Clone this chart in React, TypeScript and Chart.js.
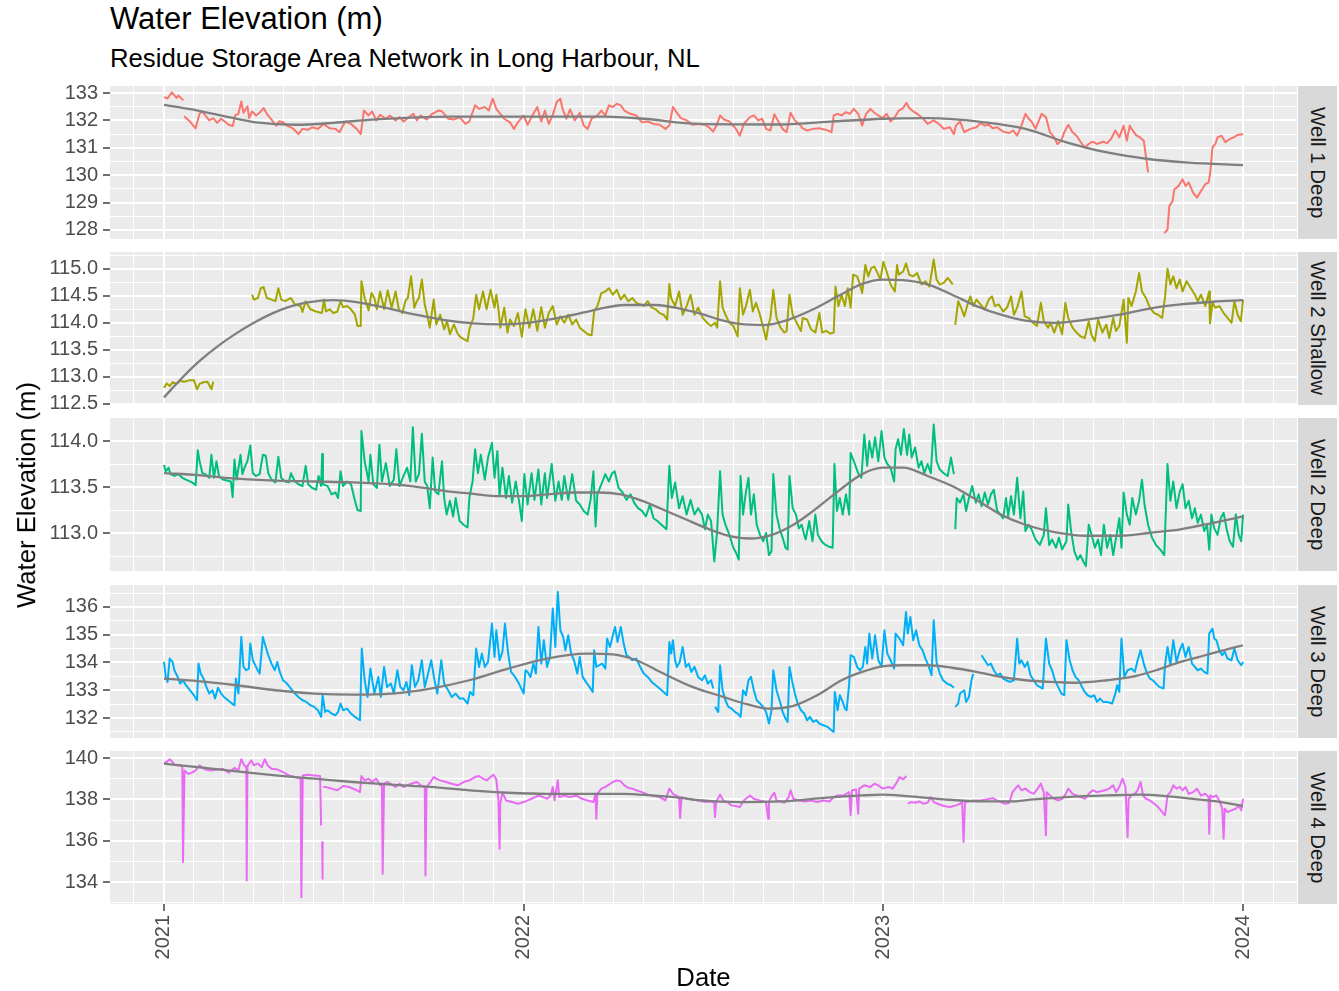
import React, { useEffect, useRef } from 'react';
import { Chart, registerables } from 'chart.js';

Chart.register(...registerables);

type Pt = [number, number | null];

// ---------------- data (decimal year, water elevation m) ----------------
const well1Deep: Pt[] = [
  [2021.000,132.85],[2021.010,132.80],[2021.022,133.02],[2021.035,132.82],[2021.040,132.91],[2021.054,132.73],
  [2021.055,null],
  [2021.056,132.15],[2021.072,131.96],[2021.088,131.71],[2021.099,132.24],[2021.107,132.33],[2021.115,132.18],[2021.126,132.00],[2021.137,132.08],[2021.148,131.91],[2021.159,132.06],[2021.169,131.96],[2021.180,131.84],[2021.191,131.79],[2021.198,132.18],[2021.207,132.24],[2021.215,132.69],[2021.221,132.28],[2021.232,132.51],[2021.237,132.08],[2021.245,132.33],[2021.256,132.18],[2021.266,132.28],[2021.277,132.45],[2021.288,132.20],[2021.299,132.03],[2021.312,131.81],[2021.320,131.97],[2021.331,131.93],[2021.342,131.81],[2021.358,131.71],[2021.374,131.50],[2021.385,131.69],[2021.401,131.66],[2021.412,131.75],[2021.428,131.69],[2021.444,131.87],[2021.461,131.71],[2021.477,131.69],[2021.488,131.57],[2021.504,131.96],[2021.520,131.87],[2021.536,131.69],[2021.547,131.50],[2021.556,132.36],[2021.568,132.18],[2021.579,132.33],[2021.590,132.00],[2021.601,132.20],[2021.617,132.06],[2021.628,132.18],[2021.644,132.00],[2021.655,132.12],[2021.666,131.96],[2021.676,132.06],[2021.693,132.24],[2021.703,132.00],[2021.714,132.18],[2021.730,132.03],[2021.746,132.24],[2021.763,132.36],[2021.773,132.33],[2021.790,132.06],[2021.806,132.03],[2021.822,132.12],[2021.838,131.87],[2021.849,131.96],[2021.865,132.55],[2021.876,132.42],[2021.892,132.49],[2021.903,132.36],[2021.914,132.79],[2021.924,132.42],[2021.935,132.24],[2021.946,132.06],[2021.962,131.93],[2021.973,131.69],[2021.984,131.93],
  [2022.000,132.18],[2022.011,131.84],[2022.022,132.12],[2022.038,132.49],[2022.049,131.96],[2022.059,132.36],[2022.070,131.87],[2022.081,132.20],[2022.092,132.67],[2022.102,132.79],[2022.108,132.42],[2022.119,132.06],[2022.129,132.40],[2022.142,132.00],[2022.156,132.28],[2022.167,131.81],[2022.178,131.69],[2022.189,132.06],[2022.205,132.18],[2022.216,132.36],[2022.227,132.18],[2022.237,132.55],[2022.248,132.49],[2022.259,132.61],[2022.270,132.55],[2022.280,132.36],[2022.297,132.24],[2022.313,132.18],[2022.329,131.93],[2022.345,131.96],[2022.361,131.87],[2022.378,131.84],[2022.394,131.69],[2022.405,131.81],[2022.415,132.49],[2022.426,132.28],[2022.437,132.08],[2022.453,132.00],[2022.469,131.84],[2022.485,131.87],
  [2022.504,131.84],[2022.515,131.75],[2022.527,131.59],[2022.538,131.87],[2022.546,132.18],[2022.557,132.03],[2022.572,131.96],[2022.589,131.71],[2022.601,131.44],[2022.612,131.87],[2022.629,132.12],[2022.640,132.18],[2022.652,132.00],[2022.663,132.06],[2022.674,131.69],[2022.686,131.63],[2022.697,132.22],[2022.708,131.96],[2022.720,131.69],[2022.731,131.57],[2022.742,132.28],[2022.754,132.00],[2022.765,131.87],[2022.776,131.71],[2022.788,131.63],[2022.805,131.69],[2022.822,131.71],[2022.839,131.66],[2022.856,131.57],[2022.862,132.18],[2022.873,132.24],[2022.884,132.18],[2022.896,132.30],[2022.907,132.24],[2022.918,132.42],[2022.930,132.24],[2022.941,131.81],[2022.952,132.24],[2022.964,132.42],[2022.975,132.28],[2022.986,132.18],[2022.998,132.08],
  [2023.009,132.24],[2023.020,131.96],[2023.032,132.12],[2023.043,132.36],[2023.055,132.45],[2023.064,132.64],[2023.072,132.45],[2023.083,132.33],[2023.094,132.24],[2023.111,132.06],[2023.123,131.87],[2023.140,132.00],[2023.157,131.84],[2023.168,131.69],[2023.185,131.75],[2023.196,131.50],[2023.202,131.81],[2023.213,131.96],[2023.225,131.57],[2023.242,131.69],[2023.259,131.75],[2023.270,131.91],[2023.282,131.81],[2023.293,131.84],[2023.304,131.71],[2023.316,131.75],[2023.333,131.59],[2023.350,131.54],[2023.361,131.63],[2023.372,131.44],[2023.384,131.81],[2023.395,132.24],[2023.404,132.06],[2023.412,131.96],[2023.423,131.69],[2023.440,132.24],[2023.452,132.12],[2023.463,131.57],[2023.475,131.38],[2023.484,131.14],[2023.495,131.26],[2023.503,131.57],[2023.514,131.84],[2023.526,131.57],[2023.537,131.44],[2023.548,131.22],[2023.560,131.01],[2023.571,131.14],[2023.582,131.22],[2023.594,131.14],[2023.611,131.22],[2023.622,131.17],[2023.633,131.32],[2023.645,131.63],[2023.656,131.38],[2023.668,131.81],[2023.677,131.26],[2023.685,131.81],[2023.690,131.69],[2023.702,131.47],[2023.713,131.38],[2023.724,131.26],[2023.736,130.10],
  [2023.760,null],
  [2023.781,127.89],[2023.790,128.01],[2023.795,128.87],[2023.804,129.05],[2023.809,129.48],[2023.821,129.61],[2023.832,129.85],[2023.840,129.61],[2023.849,129.73],[2023.861,129.36],[2023.872,129.18],[2023.883,129.42],[2023.895,129.67],[2023.904,129.73],[2023.909,130.10],[2023.915,131.01],[2023.923,131.14],[2023.929,131.38],[2023.940,131.44],[2023.951,131.20],[2023.963,131.32],[2023.974,131.38],[2023.985,131.47],[2024.000,131.50],
];
const well1Trend: Pt[] = [
  [2021.000,132.57],[2021.094,132.36],[2021.180,132.12],[2021.256,131.93],[2021.364,131.84],[2021.471,131.91],[2021.579,132.03],[2021.795,132.14],[2022.011,132.14],[2022.227,132.14],[2022.334,132.06],[2022.487,131.87],[2022.714,131.85],[2022.862,131.96],[2022.998,132.06],[2023.123,132.08],[2023.282,131.93],[2023.395,131.69],[2023.509,131.20],[2023.622,130.83],[2023.736,130.59],[2023.849,130.46],[2024.000,130.37],
];

const well2Shallow: Pt[] = [
  [2021.000,112.80],[2021.008,112.88],[2021.016,112.83],[2021.024,112.90],[2021.035,112.87],[2021.045,112.93],[2021.056,112.91],[2021.072,112.94],[2021.083,112.94],[2021.092,112.77],[2021.099,112.87],[2021.110,112.90],[2021.121,112.91],[2021.132,112.77],[2021.137,112.91],
  [2021.190,null],
  [2021.245,114.52],[2021.250,114.43],[2021.261,114.46],[2021.269,114.64],[2021.277,114.66],[2021.286,114.46],[2021.299,114.43],[2021.310,114.40],[2021.318,114.64],[2021.326,114.43],[2021.337,114.40],[2021.353,114.46],[2021.364,114.34],[2021.380,114.31],[2021.385,114.20],[2021.394,114.40],[2021.407,114.25],[2021.423,114.21],[2021.439,114.18],[2021.445,114.43],[2021.450,114.21],[2021.461,114.25],[2021.471,114.18],[2021.482,114.21],[2021.491,114.40],[2021.498,114.29],[2021.509,114.31],[2021.520,114.25],[2021.531,114.15],[2021.538,113.94],[2021.547,113.94],[2021.549,114.77],[2021.558,114.46],[2021.569,114.23],[2021.577,114.55],[2021.585,114.46],[2021.592,114.25],[2021.601,114.58],[2021.612,114.25],[2021.622,114.60],[2021.633,114.28],[2021.644,114.58],[2021.653,114.25],[2021.663,114.18],[2021.671,114.40],[2021.678,114.46],[2021.687,114.86],[2021.696,114.28],[2021.703,114.40],[2021.709,114.46],[2021.717,114.80],[2021.725,114.34],[2021.732,114.15],[2021.739,113.91],[2021.750,114.43],[2021.757,113.97],[2021.768,114.15],[2021.779,113.88],[2021.787,114.03],[2021.795,113.79],[2021.806,113.97],[2021.817,113.79],[2021.827,113.72],[2021.844,113.66],[2021.849,113.88],[2021.860,114.09],[2021.868,114.52],[2021.876,114.25],[2021.887,114.58],[2021.897,114.25],[2021.908,114.61],[2021.919,114.28],[2021.924,114.52],[2021.930,114.25],[2021.935,113.91],[2021.946,114.28],[2021.955,113.82],[2021.962,114.06],[2021.973,113.94],[2021.984,114.18],[2021.995,113.74],
  [2022.005,114.25],[2022.016,113.91],[2022.027,114.25],[2022.038,113.85],[2022.049,114.29],[2022.059,113.91],[2022.070,114.18],[2022.081,114.31],[2022.092,113.97],[2022.102,114.12],[2022.113,114.00],[2022.124,114.15],[2022.135,113.97],[2022.146,114.06],[2022.156,113.91],[2022.167,113.85],[2022.178,113.79],[2022.189,113.77],[2022.196,114.21],[2022.205,114.31],[2022.216,114.55],[2022.227,114.58],[2022.237,114.64],[2022.248,114.52],[2022.259,114.61],[2022.270,114.43],[2022.280,114.52],[2022.291,114.40],[2022.302,114.46],[2022.313,114.37],[2022.324,114.34],[2022.334,114.31],[2022.345,114.40],[2022.356,114.28],[2022.367,114.25],[2022.378,114.18],[2022.389,114.15],[2022.399,114.06],[2022.405,114.72],[2022.410,114.46],[2022.421,114.31],[2022.432,114.58],[2022.442,114.15],[2022.453,114.31],[2022.464,114.52],[2022.475,114.15],[2022.485,114.28],
  [2022.498,114.09],[2022.510,114.00],[2022.521,113.94],[2022.532,114.00],[2022.538,113.91],[2022.546,114.77],[2022.553,114.28],[2022.561,114.15],[2022.572,114.00],[2022.583,113.94],[2022.595,113.75],[2022.601,114.64],[2022.610,114.15],[2022.618,114.31],[2022.629,114.61],[2022.637,114.21],[2022.646,114.37],[2022.657,114.15],[2022.666,113.91],[2022.674,113.69],[2022.680,113.94],[2022.686,114.09],[2022.694,114.61],[2022.703,114.09],[2022.714,113.91],[2022.725,113.82],[2022.731,113.85],[2022.739,114.52],[2022.748,114.15],[2022.759,114.00],[2022.771,113.85],[2022.776,114.09],[2022.788,114.06],[2022.799,113.88],[2022.811,113.82],[2022.822,114.18],[2022.830,113.82],[2022.841,113.85],[2022.853,113.80],[2022.862,113.82],[2022.867,114.67],[2022.875,114.31],[2022.884,114.52],[2022.893,114.31],[2022.901,114.64],[2022.909,114.28],[2022.916,114.89],[2022.927,114.86],[2022.935,114.71],[2022.941,114.55],[2022.950,115.07],[2022.958,114.86],[2022.966,115.01],[2022.975,115.04],[2022.984,114.92],[2022.992,114.80],
  [2023.000,115.13],[2023.009,114.95],[2023.020,114.71],[2023.032,114.58],[2023.038,115.07],[2023.043,114.89],[2023.055,114.95],[2023.063,115.10],[2023.072,114.89],[2023.083,114.86],[2023.094,114.92],[2023.106,114.71],[2023.117,114.77],[2023.128,114.67],[2023.140,115.17],[2023.148,114.80],[2023.157,114.71],[2023.168,114.74],[2023.179,114.83],[2023.193,114.71],
  [2023.197,null],
  [2023.200,113.96],[2023.208,114.40],[2023.216,114.28],[2023.225,114.12],[2023.234,114.34],[2023.242,114.49],[2023.250,114.31],[2023.259,114.43],[2023.270,114.34],[2023.282,114.25],[2023.293,114.43],[2023.302,114.49],[2023.310,114.31],[2023.321,114.34],[2023.333,114.21],[2023.344,114.28],[2023.355,114.49],[2023.363,114.15],[2023.372,114.28],[2023.384,114.58],[2023.393,114.12],[2023.404,114.09],[2023.416,114.00],[2023.427,113.94],[2023.438,114.37],[2023.446,114.03],[2023.458,113.91],[2023.465,114.00],[2023.475,113.82],[2023.486,114.03],[2023.497,113.79],[2023.506,114.37],[2023.514,114.09],[2023.526,113.91],[2023.537,113.82],[2023.548,113.75],[2023.560,113.72],[2023.571,114.03],[2023.579,113.77],[2023.588,113.66],[2023.597,114.06],[2023.609,113.82],[2023.620,113.97],[2023.628,113.72],[2023.639,114.09],[2023.647,113.85],[2023.656,113.94],[2023.668,114.43],[2023.677,113.63],[2023.681,114.46],[2023.690,114.31],[2023.702,114.58],[2023.711,114.92],[2023.719,114.58],[2023.730,114.46],[2023.741,114.28],[2023.753,114.18],[2023.764,114.15],[2023.775,114.09],[2023.783,114.46],[2023.790,115.00],[2023.798,114.71],[2023.806,114.86],[2023.815,114.64],[2023.824,114.80],[2023.832,114.58],[2023.843,114.77],[2023.855,114.64],[2023.866,114.52],[2023.874,114.40],[2023.883,114.52],[2023.895,114.31],[2023.906,114.58],[2023.908,113.99],[2023.915,114.37],[2023.923,114.28],[2023.934,114.31],[2023.946,114.18],[2023.957,114.09],[2023.968,114.00],[2023.976,114.40],[2023.985,114.15],[2023.994,114.03],[2024.000,114.43],
];
const well2ShallowTrend: Pt[] = [
  [2021.000,112.62],[2021.050,112.98],[2021.100,113.30],[2021.150,113.57],[2021.200,113.80],[2021.250,114.00],[2021.300,114.17],[2021.350,114.30],[2021.400,114.38],[2021.470,114.42],[2021.540,114.38],[2021.620,114.27],[2021.700,114.15],[2021.780,114.05],[2021.860,113.99],[2021.935,113.97],[2022.011,114.00],[2022.119,114.12],[2022.205,114.25],[2022.280,114.33],[2022.367,114.33],[2022.442,114.25],[2022.487,114.18],[2022.544,114.06],[2022.601,113.98],[2022.669,113.96],[2022.737,114.06],[2022.805,114.25],[2022.873,114.49],[2022.941,114.72],[2022.998,114.80],[2023.055,114.79],[2023.123,114.71],[2023.191,114.52],[2023.259,114.31],[2023.327,114.15],[2023.395,114.04],[2023.475,114.00],[2023.565,114.06],[2023.656,114.15],[2023.736,114.26],[2023.826,114.34],[2023.917,114.39],[2024.000,114.42],
];

const well2Deep: Pt[] = [
  [2021.000,113.74],[2021.005,113.67],[2021.013,113.71],[2021.018,113.64],[2021.029,113.62],[2021.040,113.64],[2021.051,113.60],[2021.061,113.58],[2021.078,113.55],[2021.088,113.52],[2021.094,113.90],[2021.099,113.78],[2021.107,113.65],[2021.115,113.64],[2021.126,113.60],[2021.132,113.85],[2021.139,113.60],[2021.146,113.78],[2021.153,113.62],[2021.164,113.58],[2021.175,113.57],[2021.186,113.56],[2021.191,113.39],[2021.196,113.80],[2021.202,113.58],[2021.213,113.85],[2021.218,113.64],[2021.226,113.73],[2021.232,113.78],[2021.240,113.95],[2021.247,113.65],[2021.256,113.62],[2021.266,113.64],[2021.275,113.85],[2021.283,113.84],[2021.290,113.65],[2021.299,113.58],[2021.310,113.55],[2021.318,113.83],[2021.326,113.60],[2021.337,113.56],[2021.347,113.55],[2021.353,113.65],[2021.364,113.56],[2021.374,113.53],[2021.385,113.51],[2021.394,113.73],[2021.401,113.53],[2021.412,113.49],[2021.423,113.47],[2021.430,113.62],[2021.437,113.51],[2021.440,113.86],[2021.442,113.53],[2021.455,113.51],[2021.466,113.42],[2021.477,113.44],[2021.484,113.38],[2021.491,113.67],[2021.498,113.51],[2021.509,113.56],[2021.520,113.53],[2021.531,113.35],[2021.538,113.25],[2021.547,113.24],[2021.549,114.11],[2021.558,113.78],[2021.569,113.56],[2021.574,113.85],[2021.582,113.53],[2021.592,113.49],[2021.599,113.96],[2021.606,113.56],[2021.617,113.76],[2021.628,113.51],[2021.639,113.58],[2021.646,113.91],[2021.655,113.51],[2021.666,113.62],[2021.676,113.71],[2021.685,113.56],[2021.692,114.15],[2021.700,113.56],[2021.709,113.64],[2021.717,114.08],[2021.725,113.56],[2021.732,113.51],[2021.739,113.27],[2021.747,113.82],[2021.754,113.45],[2021.763,113.42],[2021.773,113.78],[2021.779,113.38],[2021.786,113.20],[2021.795,113.35],[2021.804,113.18],[2021.811,113.38],[2021.822,113.13],[2021.833,113.09],[2021.844,113.06],[2021.849,113.38],[2021.858,113.56],[2021.865,113.91],[2021.873,113.65],[2021.881,113.85],[2021.892,113.58],[2021.901,113.82],[2021.912,113.98],[2021.919,113.60],[2021.927,113.89],[2021.933,113.40],[2021.941,113.71],[2021.951,113.38],[2021.959,113.62],[2021.968,113.33],[2021.978,113.56],[2021.987,113.35],[2021.995,113.13],
  [2022.002,113.64],[2022.011,113.31],[2022.022,113.65],[2022.030,113.36],[2022.041,113.69],[2022.049,113.31],[2022.059,113.65],[2022.065,113.38],[2022.078,113.75],[2022.088,113.35],[2022.097,113.56],[2022.106,113.36],[2022.113,113.62],[2022.124,113.36],[2022.135,113.64],[2022.146,113.35],[2022.156,113.31],[2022.167,113.24],[2022.178,113.20],[2022.186,113.36],[2022.194,113.67],[2022.200,113.07],[2022.205,113.42],[2022.216,113.53],[2022.227,113.64],[2022.237,113.56],[2022.246,113.65],[2022.253,113.67],[2022.264,113.49],[2022.275,113.44],[2022.286,113.36],[2022.297,113.42],[2022.307,113.33],[2022.318,113.27],[2022.329,113.24],[2022.340,113.18],[2022.351,113.31],[2022.361,113.16],[2022.372,113.13],[2022.383,113.09],[2022.397,113.04],[2022.405,113.73],[2022.412,113.38],[2022.421,113.55],[2022.432,113.27],[2022.442,113.40],[2022.453,113.20],[2022.464,113.36],[2022.475,113.20],[2022.485,113.27],
  [2022.496,113.20],[2022.504,113.04],[2022.512,113.20],[2022.521,113.13],[2022.530,112.69],[2022.538,113.02],[2022.546,113.67],[2022.553,113.20],[2022.561,113.09],[2022.572,112.98],[2022.583,112.84],[2022.591,112.78],[2022.598,112.71],[2022.603,113.62],[2022.610,113.20],[2022.618,113.45],[2022.625,113.60],[2022.632,113.20],[2022.640,113.42],[2022.648,113.09],[2022.657,112.98],[2022.666,112.91],[2022.674,113.00],[2022.682,112.76],[2022.689,112.80],[2022.694,113.64],[2022.703,113.20],[2022.712,113.04],[2022.720,112.95],[2022.728,112.84],[2022.734,112.82],[2022.739,113.62],[2022.748,113.27],[2022.757,113.20],[2022.765,113.05],[2022.773,113.09],[2022.780,112.98],[2022.784,112.93],[2022.794,113.13],[2022.803,112.91],[2022.811,113.20],[2022.818,112.98],[2022.828,112.91],[2022.839,112.87],[2022.850,112.85],[2022.859,112.84],[2022.864,113.75],[2022.871,113.24],[2022.879,113.38],[2022.887,113.20],[2022.896,113.42],[2022.905,113.20],[2022.909,113.87],[2022.918,113.78],[2022.930,113.65],[2022.939,113.60],[2022.947,114.07],[2022.955,113.73],[2022.961,114.00],[2022.969,113.82],[2022.977,114.04],[2022.986,113.78],[2022.995,114.11],
  [2023.003,113.82],[2023.011,113.75],[2023.020,113.71],[2023.030,113.56],[2023.034,113.91],[2023.041,114.02],[2023.049,113.85],[2023.057,114.13],[2023.066,113.85],[2023.072,114.07],[2023.079,113.82],[2023.088,113.93],[2023.098,113.71],[2023.106,113.78],[2023.114,113.65],[2023.123,113.75],[2023.132,113.65],[2023.140,114.18],[2023.148,113.78],[2023.157,113.69],[2023.168,113.65],[2023.179,113.62],[2023.188,113.82],[2023.196,113.64],
  [2023.198,null],
  [2023.200,113.04],[2023.204,113.38],[2023.213,113.33],[2023.223,113.42],[2023.230,113.24],[2023.238,113.38],[2023.247,113.51],[2023.257,113.33],[2023.265,113.42],[2023.273,113.29],[2023.282,113.44],[2023.291,113.31],[2023.299,113.42],[2023.307,113.47],[2023.316,113.25],[2023.325,113.20],[2023.333,113.16],[2023.341,113.38],[2023.347,113.18],[2023.355,113.40],[2023.363,113.20],[2023.372,113.60],[2023.381,113.16],[2023.389,113.45],[2023.395,113.02],[2023.404,113.09],[2023.412,113.04],[2023.423,112.93],[2023.435,112.87],[2023.446,112.98],[2023.452,113.27],[2023.461,112.87],[2023.469,112.93],[2023.480,112.84],[2023.488,112.95],[2023.497,112.82],[2023.509,112.91],[2023.514,113.31],[2023.522,113.02],[2023.531,112.80],[2023.540,112.71],[2023.548,112.76],[2023.556,112.69],[2023.563,112.64],[2023.571,113.09],[2023.579,112.98],[2023.588,112.84],[2023.597,112.93],[2023.605,112.76],[2023.613,113.09],[2023.622,112.84],[2023.631,112.98],[2023.639,112.76],[2023.647,112.95],[2023.656,113.16],[2023.662,112.84],[2023.668,113.44],[2023.677,113.20],[2023.685,113.09],[2023.692,113.38],[2023.702,113.20],[2023.711,113.35],[2023.719,113.58],[2023.726,113.31],[2023.736,113.09],[2023.747,112.95],[2023.758,112.87],[2023.770,112.82],[2023.781,112.76],[2023.790,113.75],[2023.798,113.35],[2023.806,113.56],[2023.815,113.27],[2023.824,113.45],[2023.832,113.53],[2023.840,113.27],[2023.849,113.35],[2023.858,113.16],[2023.866,113.27],[2023.874,113.11],[2023.883,113.20],[2023.892,113.02],[2023.900,113.09],[2023.906,112.82],[2023.912,113.20],[2023.920,113.05],[2023.929,112.98],[2023.938,113.16],[2023.946,113.22],[2023.954,113.05],[2023.963,112.91],[2023.972,112.85],[2023.980,113.20],[2023.988,112.98],[2023.995,112.91],[2024.000,113.20],
];
const well2DeepTrend: Pt[] = [
  [2021.000,113.65],[2021.094,113.63],[2021.202,113.59],[2021.310,113.57],[2021.418,113.56],[2021.525,113.55],[2021.633,113.53],[2021.687,113.51],[2021.741,113.48],[2021.795,113.45],[2021.849,113.43],[2021.935,113.40],[2022.000,113.40],[2022.065,113.42],[2022.140,113.44],[2022.210,113.44],[2022.270,113.42],[2022.330,113.35],[2022.390,113.25],[2022.450,113.15],[2022.510,113.05],[2022.570,112.97],[2022.630,112.94],[2022.690,112.98],[2022.750,113.09],[2022.805,113.24],[2022.873,113.45],[2022.941,113.64],[2022.998,113.71],[2023.055,113.71],[2023.123,113.62],[2023.191,113.51],[2023.259,113.36],[2023.327,113.20],[2023.395,113.09],[2023.475,113.01],[2023.565,112.97],[2023.656,112.97],[2023.736,113.00],[2023.826,113.04],[2023.917,113.11],[2024.000,113.18],
];

const well3Deep: Pt[] = [
  [2021.000,134.02],[2021.005,133.48],[2021.010,133.30],[2021.016,134.14],[2021.024,134.02],[2021.029,133.72],[2021.038,133.48],[2021.045,133.24],[2021.053,133.36],[2021.061,133.18],[2021.072,133.00],[2021.083,132.82],[2021.092,132.64],[2021.096,133.96],[2021.102,133.60],[2021.110,133.42],[2021.118,133.12],[2021.126,132.88],[2021.135,133.00],[2021.142,132.70],[2021.150,133.09],[2021.159,132.88],[2021.167,132.76],[2021.178,132.64],[2021.189,132.52],[2021.196,132.46],[2021.200,133.42],[2021.207,132.88],[2021.215,134.92],[2021.221,133.84],[2021.229,133.72],[2021.236,133.78],[2021.240,134.68],[2021.247,134.08],[2021.256,133.84],[2021.266,133.60],[2021.275,134.92],[2021.283,134.56],[2021.290,134.26],[2021.299,133.96],[2021.308,133.72],[2021.315,134.02],[2021.322,133.66],[2021.331,133.36],[2021.342,133.24],[2021.353,133.06],[2021.364,132.88],[2021.374,132.76],[2021.385,132.64],[2021.396,132.58],[2021.407,132.46],[2021.418,132.40],[2021.428,132.28],[2021.437,132.04],[2021.441,132.82],[2021.448,132.22],[2021.455,132.28],[2021.466,132.16],[2021.477,132.10],[2021.484,132.22],[2021.491,132.52],[2021.498,132.28],[2021.509,132.34],[2021.520,132.16],[2021.531,132.04],[2021.545,131.92],[2021.550,134.50],[2021.558,133.36],[2021.566,132.76],[2021.574,133.78],[2021.585,132.88],[2021.596,133.48],[2021.603,132.76],[2021.612,133.84],[2021.620,133.12],[2021.631,133.24],[2021.639,132.88],[2021.649,133.72],[2021.657,133.12],[2021.666,133.00],[2021.674,133.30],[2021.682,132.82],[2021.689,133.90],[2021.698,133.12],[2021.707,133.36],[2021.717,134.08],[2021.725,133.12],[2021.732,133.48],[2021.743,134.08],[2021.752,133.36],[2021.760,132.88],[2021.771,134.08],[2021.779,133.24],[2021.790,133.00],[2021.800,132.76],[2021.811,132.88],[2021.822,132.70],[2021.833,132.70],[2021.844,132.52],[2021.851,132.94],[2021.860,132.82],[2021.868,134.50],[2021.876,133.84],[2021.884,134.32],[2021.892,133.84],[2021.901,134.02],[2021.912,135.40],[2021.919,134.20],[2021.924,135.16],[2021.933,134.08],[2021.941,134.38],[2021.948,135.40],[2021.957,134.32],[2021.965,133.66],[2021.976,133.48],[2021.987,133.24],
  [2022.000,132.88],[2022.005,133.72],[2022.011,133.66],[2022.019,133.48],[2022.027,133.96],[2022.034,133.60],[2022.041,135.28],[2022.049,133.96],[2022.056,134.80],[2022.065,133.84],[2022.073,134.20],[2022.081,135.94],[2022.088,134.56],[2022.095,136.54],[2022.102,135.16],[2022.110,134.92],[2022.116,134.44],[2022.124,134.98],[2022.132,134.32],[2022.140,134.08],[2022.149,133.60],[2022.156,134.20],[2022.164,133.48],[2022.173,133.30],[2022.183,133.12],[2022.192,132.94],[2022.196,134.44],[2022.202,133.84],[2022.210,133.90],[2022.218,133.96],[2022.227,133.78],[2022.232,134.86],[2022.240,134.56],[2022.248,134.98],[2022.254,135.28],[2022.261,134.74],[2022.270,135.28],[2022.278,134.68],[2022.286,134.26],[2022.293,134.20],[2022.302,134.08],[2022.313,134.14],[2022.324,133.84],[2022.334,133.60],[2022.345,133.48],[2022.356,133.30],[2022.367,133.18],[2022.378,133.06],[2022.389,132.94],[2022.399,132.82],[2022.405,134.74],[2022.410,134.32],[2022.415,134.80],[2022.421,134.08],[2022.426,133.84],[2022.434,134.02],[2022.442,134.56],[2022.451,133.84],[2022.459,133.96],[2022.466,133.66],[2022.475,133.84],[2022.485,133.48],
  [2022.496,133.36],[2022.504,133.54],[2022.512,133.24],[2022.521,133.36],[2022.527,133.06],
  [2022.529,null],
  [2022.532,132.40],[2022.541,132.22],[2022.546,133.90],[2022.553,133.00],[2022.561,132.64],[2022.569,132.40],[2022.578,132.34],[2022.587,132.22],[2022.595,132.16],[2022.603,132.04],[2022.610,133.00],[2022.618,132.82],[2022.625,133.36],[2022.632,133.48],[2022.640,133.00],[2022.648,132.64],[2022.657,132.52],[2022.666,132.40],[2022.674,132.22],[2022.682,131.80],[2022.689,132.28],[2022.694,133.72],[2022.703,133.00],[2022.714,132.52],[2022.720,132.22],[2022.728,131.98],[2022.734,131.86],[2022.739,133.84],[2022.746,133.36],[2022.754,132.88],[2022.762,132.52],[2022.771,132.28],[2022.780,132.16],[2022.788,131.92],[2022.796,132.04],[2022.805,131.86],[2022.814,131.92],[2022.822,131.80],[2022.833,131.74],[2022.845,131.68],[2022.856,131.56],[2022.862,131.50],[2022.865,132.94],[2022.873,132.28],[2022.879,132.82],[2022.887,132.58],[2022.893,132.34],[2022.898,132.28],[2022.905,133.24],[2022.909,134.26],[2022.918,134.20],[2022.927,133.84],[2022.935,133.72],[2022.943,133.84],[2022.950,134.56],[2022.955,133.96],[2022.961,135.04],[2022.969,134.14],[2022.977,134.98],[2022.986,134.08],[2022.995,133.84],
  [2023.003,135.16],[2023.011,134.32],[2023.020,134.08],[2023.030,133.78],[2023.034,135.04],[2023.045,134.86],[2023.055,134.62],[2023.063,135.82],[2023.068,135.04],[2023.075,135.64],[2023.083,134.80],[2023.091,135.16],[2023.100,134.62],[2023.109,134.44],[2023.117,134.14],[2023.125,133.90],[2023.134,133.54],[2023.140,135.52],[2023.148,134.00],[2023.157,133.60],[2023.166,133.36],[2023.177,133.24],[2023.188,133.18],[2023.196,133.09],
  [2023.198,null],
  [2023.200,132.40],[2023.208,132.52],[2023.213,132.88],[2023.225,133.00],[2023.230,132.58],[2023.238,132.76],[2023.245,133.36],[2023.250,133.59],
  [2023.262,null],
  [2023.273,134.26],[2023.282,134.08],[2023.291,133.90],[2023.299,133.96],[2023.307,133.72],[2023.316,133.54],[2023.325,133.60],[2023.333,133.42],[2023.341,133.36],[2023.352,133.30],[2023.363,133.36],[2023.372,134.86],[2023.378,133.96],[2023.384,134.08],[2023.393,133.84],[2023.401,134.02],[2023.409,133.54],[2023.418,133.36],[2023.427,133.18],[2023.435,133.12],[2023.443,133.06],[2023.452,134.86],[2023.461,133.96],[2023.469,133.72],[2023.477,133.36],[2023.486,133.12],[2023.495,132.88],[2023.503,132.82],[2023.509,134.80],[2023.518,134.08],[2023.526,133.72],[2023.534,133.48],[2023.543,133.36],[2023.552,133.12],[2023.560,132.94],[2023.568,132.82],[2023.577,132.76],[2023.586,132.82],[2023.594,132.58],[2023.602,132.70],[2023.611,132.58],[2023.622,132.58],[2023.636,132.52],[2023.645,132.88],[2023.650,133.18],[2023.656,132.94],[2023.662,134.86],[2023.670,133.48],[2023.679,133.72],[2023.690,133.78],[2023.699,133.66],[2023.707,134.08],[2023.715,134.44],[2023.724,133.96],[2023.733,133.60],[2023.741,133.42],[2023.749,133.36],[2023.758,133.24],[2023.767,133.12],[2023.779,133.06],[2023.783,133.90],[2023.790,134.56],[2023.798,133.90],[2023.806,134.80],[2023.815,134.02],[2023.824,134.44],[2023.832,134.68],[2023.840,134.20],[2023.849,134.56],[2023.858,133.96],[2023.866,133.84],[2023.874,133.72],[2023.883,133.78],[2023.892,133.66],[2023.901,133.60],[2023.906,135.04],[2023.915,135.22],[2023.920,134.86],[2023.926,134.80],[2023.934,134.44],[2023.942,134.26],[2023.949,134.38],[2023.957,134.14],[2023.968,134.08],[2023.976,134.50],[2023.985,134.08],[2023.995,133.90],[2024.000,134.02],
];
const well3Trend: Pt[] = [
  [2021.000,133.42],[2021.094,133.33],[2021.202,133.18],[2021.310,133.00],[2021.418,132.88],[2021.525,132.84],[2021.633,132.88],[2021.741,133.06],[2021.849,133.36],[2021.957,133.78],[2022.065,134.14],[2022.173,134.32],[2022.248,134.29],[2022.313,134.08],[2022.389,133.60],[2022.464,133.15],[2022.555,132.76],[2022.623,132.49],[2022.680,132.34],[2022.748,132.43],[2022.816,132.82],[2022.884,133.36],[2022.941,133.66],[2022.998,133.86],[2023.055,133.90],[2023.123,133.90],[2023.191,133.81],[2023.259,133.66],[2023.327,133.48],[2023.395,133.36],[2023.463,133.30],[2023.531,133.27],[2023.622,133.36],[2023.690,133.48],[2023.758,133.72],[2023.826,134.02],[2023.895,134.26],[2023.963,134.50],[2024.000,134.62],
];

const well4Deep: Pt[] = [
  [2021.000,139.73],[2021.008,139.81],[2021.016,139.94],[2021.022,139.84],[2021.029,139.68],[2021.040,139.65],[2021.051,139.61],[2021.053,134.97],[2021.057,139.40],[2021.067,139.24],[2021.078,139.29],[2021.088,139.40],[2021.099,139.65],[2021.105,139.56],[2021.115,139.45],[2021.132,139.40],[2021.148,139.45],[2021.164,139.48],[2021.180,139.29],[2021.196,139.52],[2021.207,139.40],[2021.215,139.94],[2021.223,139.65],[2021.229,139.56],[2021.230,134.08],[2021.232,139.61],[2021.243,139.89],[2021.250,139.65],[2021.261,139.73],[2021.272,139.56],[2021.280,139.94],[2021.288,139.65],[2021.299,139.48],[2021.315,139.45],[2021.331,139.32],[2021.347,139.16],[2021.364,139.08],[2021.374,139.05],[2021.380,139.00],[2021.382,133.27],[2021.386,139.16],[2021.401,139.19],[2021.418,139.16],[2021.434,139.13],[2021.437,136.74],
  [2021.438,null],
  [2021.440,135.94],[2021.441,134.16],
  [2021.442,null],
  [2021.443,138.60],[2021.450,138.60],[2021.466,138.52],[2021.482,138.44],[2021.498,138.65],[2021.515,138.60],[2021.531,138.48],[2021.545,138.35],[2021.549,139.13],[2021.558,138.92],[2021.569,139.00],[2021.579,138.84],[2021.590,139.00],[2021.601,138.68],[2021.606,138.76],[2021.608,134.40],[2021.612,138.76],[2021.622,138.84],[2021.633,138.71],[2021.644,138.60],[2021.655,138.76],[2021.666,138.60],[2021.676,138.68],[2021.687,138.76],[2021.703,138.84],[2021.714,138.68],[2021.725,138.60],[2021.727,134.32],[2021.730,138.60],[2021.741,138.84],[2021.750,139.08],[2021.757,139.00],[2021.768,138.92],[2021.784,138.84],[2021.800,138.76],[2021.817,138.68],[2021.833,138.84],[2021.849,138.92],[2021.865,139.08],[2021.876,139.13],[2021.887,139.00],[2021.897,138.92],[2021.908,139.08],[2021.916,139.19],[2021.924,138.97],[2021.930,137.95],[2021.933,135.61],[2021.935,137.79],[2021.941,138.35],[2021.951,137.95],[2021.968,137.87],[2021.984,137.79],
  [2022.000,137.87],[2022.011,137.95],[2022.022,138.03],[2022.032,138.11],[2022.043,138.19],[2022.054,138.11],[2022.065,138.03],[2022.075,138.19],[2022.081,138.60],[2022.086,137.95],[2022.095,138.92],[2022.099,138.11],[2022.113,138.19],[2022.129,138.11],[2022.146,138.19],[2022.162,138.03],[2022.178,137.95],[2022.194,137.87],[2022.200,138.27],[2022.202,137.06],[2022.205,138.27],[2022.216,138.52],[2022.227,138.60],[2022.237,138.71],[2022.248,138.84],[2022.259,138.92],[2022.270,138.87],[2022.280,138.68],[2022.291,138.55],[2022.302,138.52],[2022.313,138.44],[2022.329,138.35],[2022.345,138.23],[2022.361,138.16],[2022.378,138.11],[2022.394,137.95],[2022.405,138.52],[2022.415,138.27],[2022.432,138.11],[2022.435,137.10],[2022.439,138.11],[2022.453,138.03],[2022.469,138.00],[2022.485,137.95],
  [2022.498,137.90],[2022.510,137.87],[2022.521,137.90],[2022.530,137.84],[2022.532,137.15],[2022.535,137.87],[2022.546,138.23],[2022.555,137.95],[2022.566,137.87],[2022.578,137.71],[2022.589,137.68],[2022.601,137.63],[2022.612,137.95],[2022.629,138.19],[2022.640,138.03],[2022.657,137.95],[2022.674,137.87],[2022.680,137.06],[2022.682,137.90],[2022.691,138.19],[2022.697,138.32],[2022.703,137.95],[2022.714,137.90],[2022.725,137.84],[2022.737,138.11],[2022.742,138.44],[2022.750,138.03],[2022.765,137.95],[2022.782,137.90],[2022.799,137.95],[2022.816,137.87],[2022.833,137.95],[2022.850,137.90],[2022.862,138.11],[2022.873,138.19],[2022.890,138.19],[2022.905,138.35],[2022.909,137.23],[2022.913,138.44],[2022.924,138.48],[2022.930,137.31],[2022.933,138.52],[2022.947,138.68],[2022.964,138.60],[2022.975,138.76],[2022.986,138.68],[2022.998,138.52],
  [2023.015,138.60],[2023.026,138.52],[2023.038,138.84],[2023.045,139.08],[2023.055,138.97],[2023.064,139.13],
  [2023.066,null],
  [2023.068,137.79],[2023.077,137.87],[2023.088,137.84],[2023.100,137.90],[2023.111,137.79],[2023.123,137.84],[2023.132,138.11],[2023.140,137.87],[2023.151,137.79],[2023.168,137.68],[2023.185,137.63],[2023.202,137.71],[2023.213,137.79],[2023.219,137.87],[2023.223,135.94],[2023.227,137.87],[2023.236,137.90],[2023.253,137.95],[2023.270,137.95],[2023.287,138.00],[2023.304,138.06],[2023.316,137.95],[2023.327,137.87],[2023.338,137.79],[2023.350,137.84],[2023.359,138.35],[2023.367,138.52],[2023.375,138.68],[2023.384,138.44],[2023.395,138.52],[2023.407,138.35],[2023.418,138.27],[2023.429,138.52],[2023.438,138.76],[2023.446,138.35],[2023.452,136.26],[2023.454,138.35],[2023.463,138.19],[2023.475,138.03],[2023.486,137.95],[2023.497,138.03],[2023.506,138.23],[2023.514,138.52],[2023.526,138.27],[2023.537,138.19],[2023.548,138.11],[2023.560,138.03],[2023.571,138.27],[2023.582,138.44],[2023.594,138.35],[2023.605,138.39],[2023.616,138.44],[2023.628,138.52],[2023.639,138.68],[2023.647,138.35],[2023.656,138.60],[2023.665,139.00],[2023.673,138.60],[2023.679,136.18],[2023.682,138.03],[2023.690,138.19],[2023.699,138.27],[2023.707,138.44],[2023.715,138.84],[2023.722,138.19],[2023.730,138.03],[2023.741,137.95],[2023.753,137.79],[2023.764,137.63],[2023.775,137.39],[2023.783,137.23],[2023.790,138.19],[2023.798,138.35],[2023.806,138.68],[2023.815,138.52],[2023.824,138.60],[2023.832,138.44],[2023.840,138.60],[2023.849,138.27],[2023.861,138.35],[2023.872,138.52],[2023.883,138.19],[2023.895,138.27],[2023.904,138.11],[2023.906,136.34],[2023.909,138.19],[2023.917,138.11],[2023.926,138.19],[2023.934,137.95],[2023.942,137.55],[2023.946,136.10],[2023.949,137.55],[2023.957,137.39],[2023.968,137.47],[2023.980,137.55],[2023.988,137.71],[2023.995,137.47],[2024.000,138.03],
];
const well4Trend: Pt[] = [
  [2021.000,139.73],[2021.094,139.56],[2021.202,139.35],[2021.310,139.16],[2021.418,139.00],[2021.525,138.84],[2021.633,138.71],[2021.741,138.60],[2021.849,138.44],[2021.957,138.32],[2022.065,138.27],[2022.173,138.27],[2022.280,138.27],[2022.356,138.19],[2022.442,138.06],[2022.487,137.96],[2022.601,137.87],[2022.714,137.90],[2022.828,138.06],[2022.941,138.19],[2022.998,138.23],[2023.064,138.16],[2023.168,138.00],[2023.282,137.90],[2023.350,137.90],[2023.418,138.00],[2023.509,138.11],[2023.622,138.19],[2023.713,138.23],[2023.792,138.15],[2023.872,138.00],[2023.940,137.87],[2024.000,137.68],
];

// axis tick values
const yearTicks = [2021, 2022, 2023, 2024];
const well1YTicks = [128, 129, 130, 131, 132, 133];
const well1YMinor = [128.5, 129.5, 130.5, 131.5, 132.5];
const well2ShallowYTicks = [112.5, 113.0, 113.5, 114.0, 114.5, 115.0];
const well2ShallowYMinor = [112.75, 113.25, 113.75, 114.25, 114.75, 115.25];
const well2DeepYTicks = [113.0, 113.5, 114.0];
const well2DeepYMinor = [112.75, 113.25, 113.75];
const well3YTicks = [132, 133, 134, 135, 136];
const well3YMinor = [131.5, 132.5, 133.5, 134.5, 135.5, 136.5];
const well4YTicks = [134, 136, 138, 140];
const well4YMinor = [133, 135, 137, 139];

const X_MIN = 2020.85;
const X_MAX = 2024.15;

const FONT = '"Liberation Sans", Arial, Helvetica, sans-serif';

const panels = [
  { name: 'Well 1 Deep', color: '#F8766D', series: well1Deep, trend: well1Trend, yMin: 127.67, yMax: 133.255, major: well1YTicks, minor: well1YMinor, dec: 0 },
  { name: 'Well 2 Shallow', color: '#A3A500', series: well2Shallow, trend: well2ShallowTrend, yMin: 112.48, yMax: 115.31, major: well2ShallowYTicks, minor: well2ShallowYMinor, dec: 1 },
  { name: 'Well 2 Deep', color: '#00BF7D', series: well2Deep, trend: well2DeepTrend, yMin: 112.587, yMax: 114.25, major: well2DeepYTicks, minor: well2DeepYMinor, dec: 1 },
  { name: 'Well 3 Deep', color: '#00B0F6', series: well3Deep, trend: well3Trend, yMin: 131.28, yMax: 136.79, major: well3YTicks, minor: well3YMinor, dec: 0 },
  { name: 'Well 4 Deep', color: '#E76BF3', series: well4Deep, trend: well4Trend, yMin: 132.94, yMax: 140.34, major: well4YTicks, minor: well4YMinor, dec: 0 },
];

const PANEL_TOPS = [86, 252, 418, 585, 751];
const PANEL_H = 153;
const PLOT_LEFT = 110;
const PLOT_RIGHT = 1297;
const MARGIN = 16;
const XAXIS_H = 72;

function monthTicks(): number[] {
  const out: number[] = [];
  for (let y = 2020; y <= 2024; y++) {
    for (let m = 0; m < 12; m++) {
      const v = y + m / 12;
      if (v >= X_MIN && v <= X_MAX) out.push(v);
    }
  }
  return out;
}

const near = (a: number, b: number) => Math.abs(a - b) < 1e-6;

function Panel({ def, top, showX }: any) {
  const ref = useRef<HTMLCanvasElement>(null);
  const h = PANEL_H + MARGIN + (showX ? XAXIS_H : MARGIN);
  useEffect(() => {
    const canvas = ref.current!;
    const isMajorY = (v: number) => def.major.some((m: number) => near(m, v));
    const isYear = (v: number) => yearTicks.some((y) => near(y, v));
    const bg = {
      id: 'panelBg',
      beforeDraw(chart: any) {
        const { ctx, chartArea: a } = chart;
        ctx.save();
        ctx.fillStyle = '#EBEBEB';
        ctx.fillRect(a.left, a.top, a.right - a.left, a.bottom - a.top);
        ctx.restore();
      },
    };
    const chart = new Chart(canvas, {
      type: 'line',
      data: {
        datasets: [
          {
            data: def.trend.map(([x, y]: Pt) => ({ x, y })),
            borderColor: '#7F7F7F',
            borderWidth: 2.3,
            pointRadius: 0,
            cubicInterpolationMode: 'monotone',
            fill: false,
          },
          {
            data: def.series.map(([x, y]: Pt) => ({ x, y })),
            borderColor: def.color,
            borderWidth: 2,
            borderJoinStyle: 'round',
            pointRadius: 0,
            tension: 0,
            spanGaps: false,
            fill: false,
          },
        ],
      } as any,
      options: {
        animation: false,
        responsive: false,
        maintainAspectRatio: false,
        events: [],
        layout: { padding: { top: MARGIN, bottom: showX ? 0 : MARGIN, left: 0, right: 0 } },
        plugins: { legend: { display: false }, tooltip: { enabled: false }, title: { display: false } },
        scales: {
          x: {
            type: 'linear',
            min: X_MIN,
            max: X_MAX,
            afterBuildTicks: (s: any) => { s.ticks = monthTicks().map((v) => ({ value: v })); },
            afterFit: (s: any) => { s.height = showX ? XAXIS_H : 0; s.paddingLeft = 0; s.paddingRight = 0; },
            border: { display: false },
            grid: {
              color: '#FFFFFF',
              lineWidth: (c: any) => (c.tick && isYear(c.tick.value) ? 2 : 1),
              drawTicks: showX,
              tickLength: 7,
              tickWidth: 1.4,
              tickColor: (c: any) => (c.tick && isYear(c.tick.value) ? '#333333' : 'rgba(0,0,0,0)'),
            },
            ticks: {
              display: showX,
              autoSkip: false,
              minRotation: 90,
              maxRotation: 90,
              padding: 4,
              color: '#4D4D4D',
              font: { family: FONT, size: 20 },
              callback: (v: any) => (isYear(Number(v)) ? String(Math.round(Number(v))) : ''),
            },
          },
          y: {
            type: 'linear',
            position: 'left',
            min: def.yMin,
            max: def.yMax,
            afterBuildTicks: (s: any) => {
              s.ticks = [...def.major, ...def.minor].sort((a: number, b: number) => a - b).map((v: number) => ({ value: v }));
            },
            afterFit: (s: any) => { s.width = PLOT_LEFT; s.paddingTop = 0; s.paddingBottom = 0; },
            border: { display: false },
            grid: {
              color: '#FFFFFF',
              lineWidth: (c: any) => (c.tick && isMajorY(c.tick.value) ? 2 : 1),
              drawTicks: true,
              tickLength: 7,
              tickWidth: 1.4,
              tickColor: (c: any) => (c.tick && isMajorY(c.tick.value) ? '#333333' : 'rgba(0,0,0,0)'),
            },
            ticks: {
              autoSkip: false,
              padding: 5,
              color: '#4D4D4D',
              font: { family: FONT, size: 20 },
              callback: (v: any) => (isMajorY(Number(v)) ? Number(v).toFixed(def.dec) : ''),
            },
          },
        },
      } as any,
      plugins: [bg],
    });
    return () => chart.destroy();
  }, []);
  return (
    <canvas
      ref={ref}
      width={PLOT_RIGHT}
      height={h}
      style={{ position: 'absolute', left: 0, top: top - MARGIN, width: PLOT_RIGHT, height: h }}
    />
  );
}

export default function App() {
  return (
    <div style={{ position: 'absolute', left: 0, top: 0, width: 1339, height: 991, background: '#FFFFFF', overflow: 'hidden', fontFamily: FONT }}>
      <div style={{ position: 'absolute', left: 110, top: 3, fontSize: 31, lineHeight: 1, color: '#000', whiteSpace: 'nowrap' }}>Water Elevation (m)</div>
      <div style={{ position: 'absolute', left: 110, top: 46, fontSize: 25.7, lineHeight: 1, color: '#000', whiteSpace: 'nowrap' }}>Residue Storage Area Network in Long Harbour, NL</div>
      {panels.map((p, i) => (
        <Panel key={p.name} def={p} top={PANEL_TOPS[i]} showX={i === panels.length - 1} />
      ))}
      {panels.map((p, i) => (
        <div
          key={'strip' + i}
          style={{
            position: 'absolute', left: 1298, top: PANEL_TOPS[i], width: 39, height: PANEL_H,
            background: '#D9D9D9', display: 'flex', alignItems: 'center', justifyContent: 'center',
          }}
        >
          <span style={{ writingMode: 'vertical-rl', fontSize: 20.5, color: '#1A1A1A', whiteSpace: 'nowrap', lineHeight: 1 }}>{p.name}</span>
        </div>
      ))}
      <div
        style={{
          position: 'absolute', left: 27, top: 495, fontSize: 25.7, lineHeight: 1, color: '#000', whiteSpace: 'nowrap',
          transform: 'translate(-50%, -50%) rotate(-90deg)',
        }}
      >
        Water Elevation (m)
      </div>
      <div style={{ position: 'absolute', left: 703.5, top: 965, transform: 'translateX(-50%)', fontSize: 25.7, lineHeight: 1, color: '#000', whiteSpace: 'nowrap' }}>Date</div>
    </div>
  );
}
